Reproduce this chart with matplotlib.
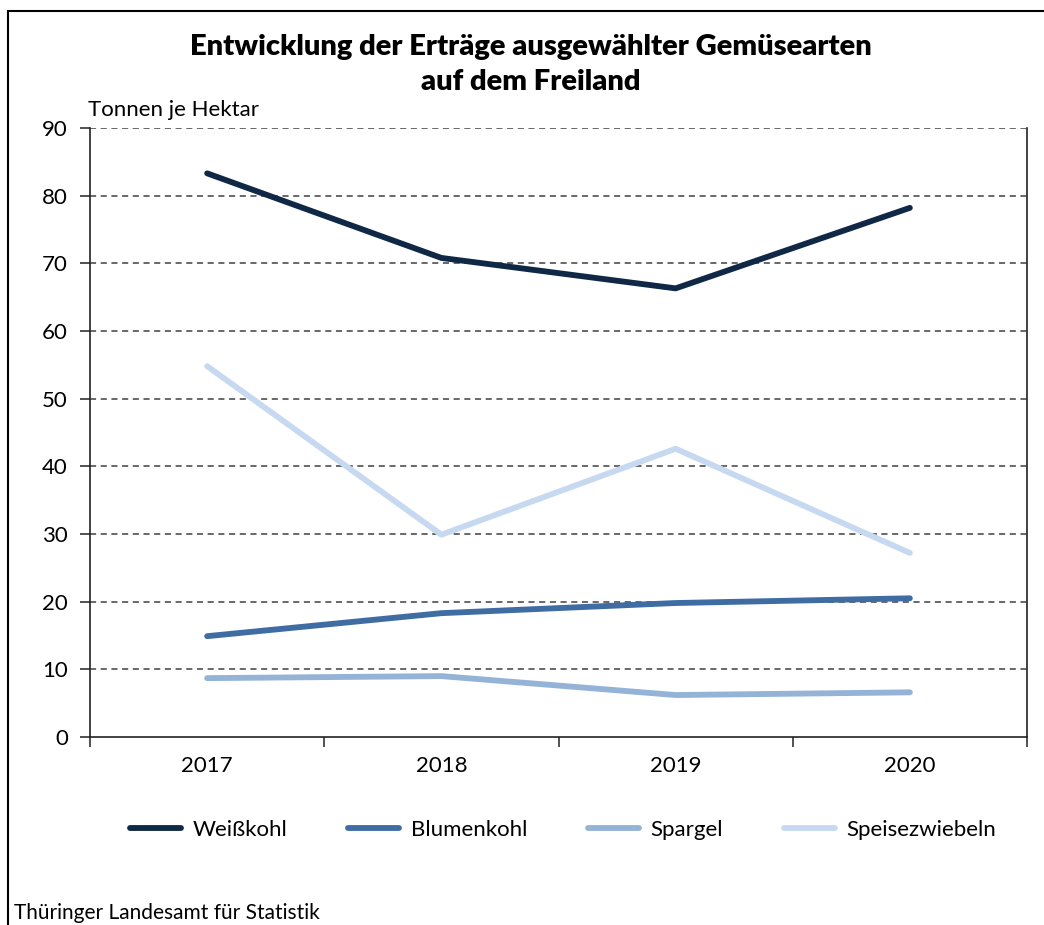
import matplotlib
matplotlib.use("Agg")
import matplotlib.pyplot as plt
from matplotlib.patches import Rectangle
from matplotlib.lines import Line2D

years = ["2017", "2018", "2019", "2020"]
weisskohl = [83.3, 70.8, 66.3, 78.2]
blumenkohl = [14.9, 18.3, 19.8, 20.5]
spargel = [8.7, 9.0, 6.2, 6.6]
speisezwiebeln = [54.8, 29.9, 42.6, 27.2]
series_names = ["Weißkohl", "Blumenkohl", "Spargel", "Speisezwiebeln"]
colors = ["#0f2846", "#3f6ca3", "#94b3d7", "#c6d9f0"]

plt.rcParams['font.family'] = ['Lato', 'DejaVu Sans']

W, H = 1044, 925
fig = plt.figure(figsize=(W/100, H/100), dpi=100)

# outer frame
fig.add_artist(Rectangle((8/W, -0.1), 1.2, 1 - 11/H + 0.1, transform=fig.transFigure,
                         fill=False, edgecolor='black', linewidth=1.5))

ax = fig.add_axes([90/W, 1 - 737/H, (1027-90)/W, (737-128)/H])
x = list(range(len(years)))
for vals, name, c in zip([weisskohl, blumenkohl, spargel, speisezwiebeln], series_names, colors):
    ax.plot(x, vals, color=c, linewidth=4.2, solid_capstyle='round', solid_joinstyle='round', label=name)

ax.set_xlim(-0.5, 3.5)
ax.set_ylim(0, 90)
ax.set_yticks(range(0, 91, 10))
ax.set_yticklabels([str(v) for v in range(0, 91, 10)], fontsize=16)
ax.set_xticks([i - 0.5 for i in range(5)])
ax.set_xticklabels([])
ax.set_xticks(x, minor=True)
ax.set_xticklabels(years, minor=True, fontsize=16)
ax.tick_params(axis='x', which='minor', length=0, pad=14)
ax.tick_params(axis='x', which='major', length=7, width=1.2, direction='out', color='#333333')
ax.tick_params(axis='y', length=7, width=1.2, direction='out', color='#333333', pad=9)
for v in range(10, 91, 10):
    ax.axhline(v, color='#404040', linewidth=1.1, linestyle=(0, (4, 3)), zorder=0)
ax.spines['top'].set_visible(False)
for s in ['left', 'bottom', 'right']:
    ax.spines[s].set_linewidth(1.2)
    ax.spines[s].set_color('#222222')

fig.text(531/W, 1 - 47/H, "Entwicklung der Erträge ausgewählter Gemüsearten", ha='center', va='center',
         fontsize=21, fontweight='heavy')
fig.text(531/W, 1 - 82/H, "auf dem Freiland", ha='center', va='center', fontsize=21, fontweight='heavy')
fig.text(88/W, 1 - 110/H, "Tonnen je Hektar", ha='left', va='center', fontsize=16)
fig.text(14/W, 1 - 913/H, "Thüringer Landesamt für Statistik", ha='left', va='center', fontsize=15)

handles = [Line2D([0], [0], color=c, linewidth=4.2, solid_capstyle='round') for c in colors]
fig.legend(handles, series_names, loc='center', bbox_to_anchor=(563/W, 1 - 830/H), ncol=4,
           frameon=False, fontsize=16, handlelength=2.3, columnspacing=2.75, handletextpad=0.5)

fig.savefig("out.png", dpi=100)
